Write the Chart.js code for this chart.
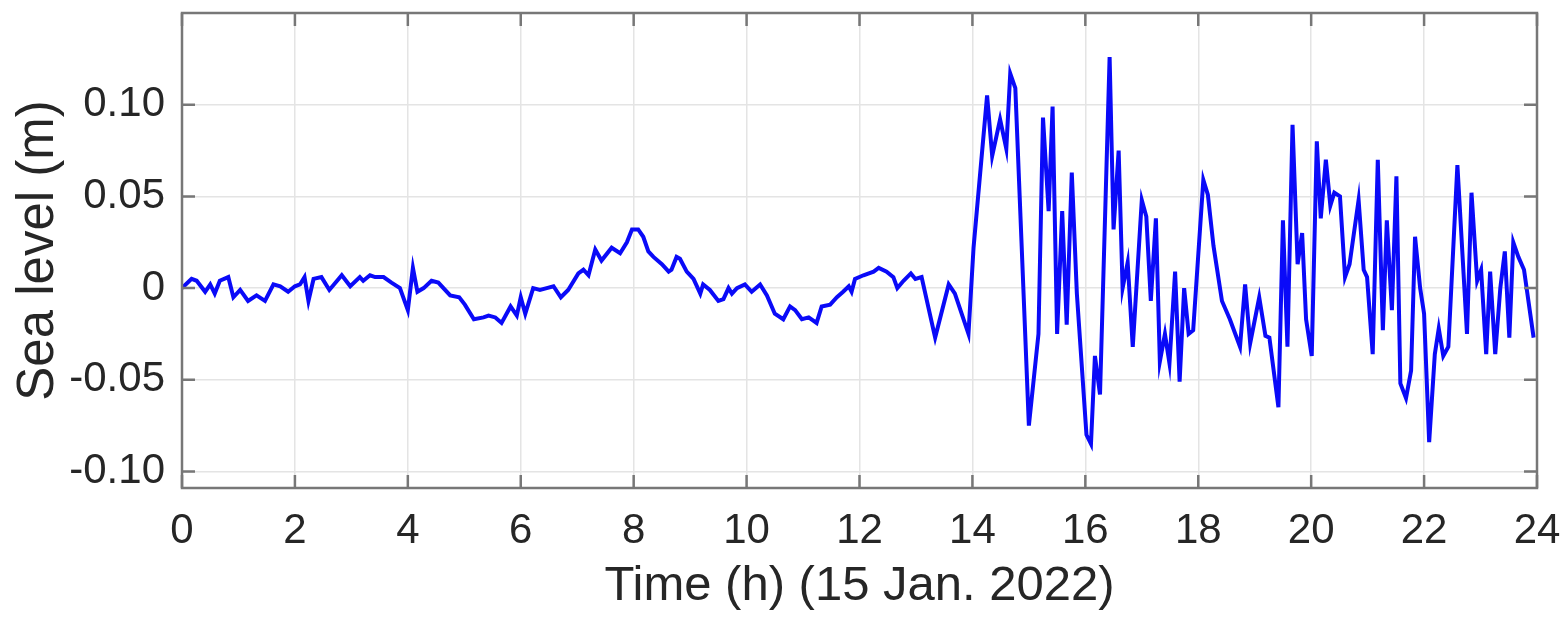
<!DOCTYPE html>
<html>
<head>
<meta charset="utf-8">
<script src="https://cdn.jsdelivr.net/npm/chart.js@4/dist/chart.umd.min.js"></script>
<style>
  html, body { margin: 0; padding: 0; background: #fff; }
  #wrap { width: 1562px; height: 617px; position: relative; }
</style>
</head>
<body>
<div id="wrap"><canvas id="seaChart"></canvas></div>
<script>
// time in hours (15 Jan. 2022) and sea level in metres
const hours = [
  0.00, 0.17, 0.26, 0.41, 0.50, 0.58, 0.67, 0.82, 0.91, 1.03, 1.17, 1.32, 1.47, 1.62, 1.74, 1.88,
  2.00, 2.09, 2.17, 2.24, 2.33, 2.47, 2.61, 2.83, 2.98, 3.15, 3.21, 3.33, 3.42, 3.57, 3.71, 3.86,
  4.00, 4.09, 4.17, 4.28, 4.42, 4.54, 4.75, 4.91, 5.01, 5.17, 5.34, 5.43, 5.55, 5.66, 5.82, 5.93,
  6.00, 6.08, 6.22, 6.34, 6.46, 6.58, 6.71, 6.84, 7.02, 7.11, 7.20, 7.32, 7.43, 7.61, 7.76, 7.88,
  7.97, 8.08, 8.17, 8.26, 8.35, 8.50, 8.62, 8.67, 8.76, 8.82, 8.94, 9.06, 9.18, 9.23, 9.35, 9.50,
  9.59, 9.68, 9.74, 9.83, 9.97, 10.09, 10.24, 10.36, 10.50, 10.65, 10.77, 10.86, 10.98, 11.10, 11.24, 11.33,
  11.48, 11.60, 11.71, 11.81, 11.86, 11.92, 12.07, 12.25, 12.34, 12.48, 12.60, 12.67, 12.78, 12.91, 12.99, 13.10,
  13.34, 13.58, 13.69, 13.93, 14.02, 14.26, 14.35, 14.49, 14.60, 14.67, 14.76, 15.00, 15.17, 15.25, 15.35, 15.42,
  15.50, 15.59, 15.67, 15.76, 15.85, 16.02, 16.10, 16.17, 16.26, 16.43, 16.50, 16.59, 16.66, 16.75, 16.84, 17.00,
  17.08, 17.16, 17.25, 17.32, 17.41, 17.49, 17.59, 17.67, 17.75, 17.83, 17.91, 18.09, 18.17, 18.27, 18.42, 18.56,
  18.74, 18.83, 18.92, 19.08, 19.19, 19.26, 19.42, 19.50, 19.58, 19.67, 19.76, 19.84, 19.91, 20.01, 20.10, 20.17,
  20.26, 20.34, 20.41, 20.51, 20.60, 20.68, 20.84, 20.93, 20.99, 21.09, 21.18, 21.27, 21.34, 21.43, 21.51, 21.58,
  21.68, 21.77, 21.84, 21.93, 22.00, 22.09, 22.19, 22.26, 22.34, 22.43, 22.59, 22.76, 22.84, 22.94, 23.01, 23.10,
  23.17, 23.26, 23.35, 23.43, 23.51, 23.58, 23.67, 23.77, 23.94
];
const seaLevel = [
  0.000, 0.005, 0.004, -0.002, 0.002, -0.003, 0.004, 0.006, -0.005, -0.001, -0.007, -0.004, -0.007, 0.002, 0.001, -0.002,
  0.001, 0.002, 0.006, -0.007, 0.005, 0.006, -0.001, 0.007, 0.001, 0.006, 0.004, 0.007, 0.006, 0.006, 0.003, 0.000,
  -0.012, 0.011, -0.002, 0.000, 0.004, 0.003, -0.004, -0.005, -0.009, -0.017, -0.016, -0.015, -0.016, -0.019, -0.010, -0.015,
  -0.005, -0.014, 0.000, -0.001, 0.000, 0.001, -0.005, -0.001, 0.008, 0.010, 0.007, 0.021, 0.015, 0.022, 0.019, 0.025,
  0.032, 0.032, 0.028, 0.020, 0.017, 0.013, 0.009, 0.010, 0.017, 0.016, 0.009, 0.005, -0.003, 0.002, -0.001, -0.007,
  -0.006, 0.000, -0.003, 0.000, 0.002, -0.002, 0.002, -0.004, -0.014, -0.017, -0.010, -0.012, -0.017, -0.016, -0.019, -0.010,
  -0.009, -0.005, -0.002, 0.001, -0.002, 0.005, 0.007, 0.009, 0.011, 0.009, 0.006, 0.000, 0.004, 0.008, 0.005, 0.006,
  -0.027, 0.002, -0.003, -0.025, 0.022, 0.105, 0.072, 0.092, 0.076, 0.117, 0.109, -0.075, -0.025, 0.093, 0.042, 0.099,
  -0.025, 0.042, -0.020, 0.063, -0.003, -0.080, -0.085, -0.037, -0.058, 0.126, 0.032, 0.075, 0.000, 0.014, -0.032, 0.048,
  0.039, -0.007, 0.038, -0.040, -0.025, -0.041, 0.009, -0.051, 0.000, -0.025, -0.023, 0.059, 0.051, 0.023, -0.007, -0.017,
  -0.032, 0.002, -0.030, -0.005, -0.026, -0.027, -0.065, 0.037, -0.032, 0.089, 0.013, 0.030, -0.017, -0.037, 0.080, 0.038,
  0.070, 0.045, 0.052, 0.050, 0.006, 0.013, 0.048, 0.010, 0.006, -0.036, 0.070, -0.023, 0.037, -0.012, 0.061, -0.052,
  -0.060, -0.045, 0.028, 0.000, -0.014, -0.084, -0.036, -0.022, -0.037, -0.032, 0.067, -0.025, 0.052, 0.004, 0.010, -0.036,
  0.009, -0.036, 0.000, 0.020, -0.027, 0.025, 0.017, 0.010, -0.027
];
const xTickValues = [0, 2, 4, 6, 8, 10, 12, 14, 16, 18, 20, 22, 24];
const yTickValues = [-0.10, -0.05, 0, 0.05, 0.10];
const yTickLabels = ['-0.10', '-0.05', '0', '0.05', '0.10'];

const FONT = '"Liberation Sans", Arial, Helvetica, sans-serif';
const AXIS_GRAY = '#777777';
const TEXT_COLOR = '#262626';

const points = hours.map((h, i) => ({ x: h, y: seaLevel[i] }));

// MATLAB-style box: frame round the plot plus inward ticks on all four sides
const boxPlugin = {
  id: 'matlabBox',
  afterDatasetsDraw(chart) {
    const { ctx, chartArea: a, scales } = chart;
    const tick = 13;
    ctx.save();
    ctx.strokeStyle = AXIS_GRAY;
    ctx.lineWidth = 2.5;
    xTickValues.forEach(v => {
      const px = scales.x.getPixelForValue(v);
      ctx.beginPath();
      ctx.moveTo(px, a.bottom); ctx.lineTo(px, a.bottom - tick);
      ctx.moveTo(px, a.top); ctx.lineTo(px, a.top + tick);
      ctx.stroke();
    });
    yTickValues.forEach(v => {
      const py = scales.y.getPixelForValue(v);
      ctx.beginPath();
      ctx.moveTo(a.left, py); ctx.lineTo(a.left + tick, py);
      ctx.moveTo(a.right, py); ctx.lineTo(a.right - tick, py);
      ctx.stroke();
    });
    ctx.strokeRect(a.left, a.top, a.right - a.left, a.bottom - a.top);
    ctx.restore();
  }
};

new Chart(document.getElementById('seaChart'), {
  type: 'line',
  data: {
    datasets: [{
      label: 'Sea level',
      data: points,
      borderColor: '#0a0af8',
      borderWidth: 4,
      pointRadius: 0,
      tension: 0,
      fill: false
    }]
  },
  options: {
    responsive: true,
    maintainAspectRatio: false,
    animation: false,
    layout: { padding: { left: 0, top: 13, right: 25, bottom: 0 } },
    plugins: {
      legend: { display: false },
      tooltip: { enabled: false }
    },
    scales: {
      x: {
        type: 'linear',
        min: 0,
        max: 24,
        afterBuildTicks: s => { s.ticks = xTickValues.map(v => ({ value: v })); },
        afterFit: s => { s.height = 129; s.paddingLeft = 0; s.paddingRight = 0; },
        grid: { color: '#e4e4e4', lineWidth: 1.5, drawTicks: false },
        border: { display: false },
        ticks: {
          color: TEXT_COLOR,
          font: { family: FONT, size: 42 },
          padding: 18,
          maxRotation: 0,
          callback: v => String(v)
        },
        title: {
          display: true,
          text: 'Time (h) (15 Jan. 2022)',
          color: TEXT_COLOR,
          font: { family: FONT, size: 49 },
          padding: { top: 0, bottom: 1 }
        }
      },
      y: {
        min: -0.109,
        max: 0.15,
        afterBuildTicks: s => { s.ticks = yTickValues.map(v => ({ value: v })); },
        afterFit: s => { s.width = 182; s.paddingTop = 0; s.paddingBottom = 0; },
        grid: { color: '#e4e4e4', lineWidth: 1.5, drawTicks: false },
        border: { display: false },
        ticks: {
          color: TEXT_COLOR,
          font: { family: FONT, size: 42 },
          padding: 17,
          callback: v => yTickLabels[yTickValues.indexOf(v)] ?? ''
        },
        title: {
          display: true,
          text: 'Sea level (m)',
          color: TEXT_COLOR,
          font: { family: FONT, size: 51 },
          padding: { top: 8, bottom: 0 }
        }
      }
    }
  },
  plugins: [boxPlugin]
});
</script>
</body>
</html>
